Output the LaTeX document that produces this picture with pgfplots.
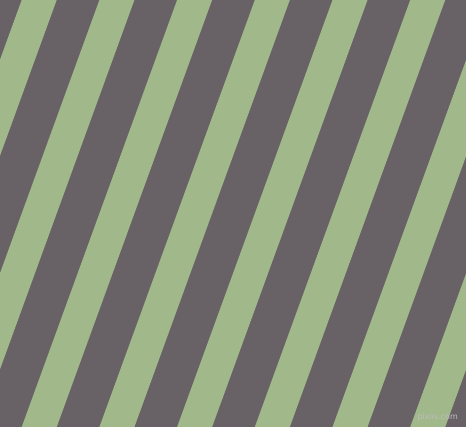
\documentclass[border=0pt]{standalone}
\usepackage{pgfplots}
\pgfplotsset{compat=1.18}
\usepackage{fontspec}
\setmainfont{DejaVu Sans}

\definecolor{stripegray}{RGB}{104,98,102}
\definecolor{stripegreen}{RGB}{161,184,139}
\definecolor{markgray}{RGB}{190,190,190}

\begin{document}
\begin{tikzpicture}
\begin{axis}[
    scale only axis,
    width=466bp, height=427bp,
    xmin=0, xmax=466,
    ymin=0, ymax=427,
    hide axis,
    clip=true,
]
% background
\addplot[fill=stripegray, draw=none] coordinates {(0,0)(466,0)(466,427)(0,427)} -- cycle;

% green stripes: top edge (y=427) and bottom edge (y=0)
\addplot[fill=stripegreen, draw=none] coordinates {(21.7,427)(56.7,427)(-98.7,0)(-133.7,0)} -- cycle;
\addplot[fill=stripegreen, draw=none] coordinates {(99.4,427)(134.4,427)(-21.0,0)(-56.0,0)} -- cycle;
\addplot[fill=stripegreen, draw=none] coordinates {(177.1,427)(212.1,427)(56.7,0)(21.7,0)} -- cycle;
\addplot[fill=stripegreen, draw=none] coordinates {(254.8,427)(289.8,427)(134.4,0)(99.4,0)} -- cycle;
\addplot[fill=stripegreen, draw=none] coordinates {(332.5,427)(367.5,427)(212.1,0)(177.1,0)} -- cycle;
\addplot[fill=stripegreen, draw=none] coordinates {(410.2,427)(445.2,427)(289.8,0)(254.8,0)} -- cycle;
\addplot[fill=stripegreen, draw=none] coordinates {(487.9,427)(522.9,427)(367.5,0)(332.5,0)} -- cycle;
\addplot[fill=stripegreen, draw=none] coordinates {(565.6,427)(600.6,427)(445.2,0)(410.2,0)} -- cycle;

% watermark
\node[anchor=base east, inner sep=0pt, font=\fontsize{8}{8}\selectfont, text=markgray]
    at (axis cs:458,8) {pixiis.com};
\end{axis}
\end{tikzpicture}
\end{document}
